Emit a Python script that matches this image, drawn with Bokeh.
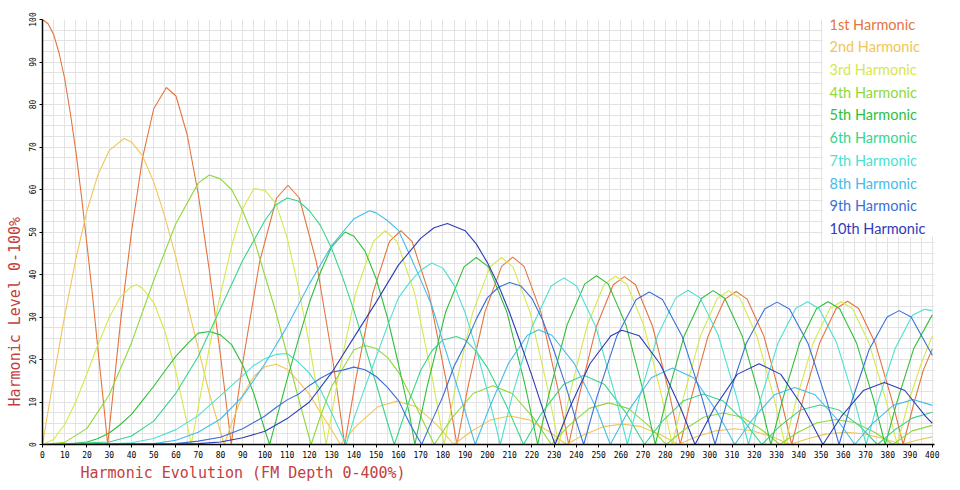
import math
from bokeh.plotting import figure
from bokeh.models import SingleIntervalTicker, BoxAnnotation, Label, Title
from bokeh.embed import file_html
from bokeh.resources import INLINE

# ---- data (x: FM depth 0-400 %, y: harmonic level 0-100 %) ----
H1_X = [0, 2.5, 5, 7.5, 10, 12.5, 15, 17.5, 20, 22.5, 25, 27.5, 29.3,
        35, 40, 45, 50, 55.7, 60, 65, 70, 75, 80, 84.85,
        89.95, 97.6, 105.25, 110.35, 115.45, 123.1, 130.75, 135.85,
        140.9, 148.5, 156.0, 161.1, 166.1, 173.7, 181.3, 186.3,
        191.3, 198.9, 206.4, 211.4, 216.5, 224.0, 231.5, 236.55,
        241.6, 249.1, 256.6, 261.6, 266.6, 274.2, 281.7, 286.7,
        291.7, 299.2, 306.7, 311.8, 316.8, 324.3, 331.8, 336.8,
        341.8, 349.3, 356.8, 361.9, 366.9, 374.4, 381.9, 386.9,
        391.9, 396, 400]
H1_Y = [100, 99, 96.5, 92, 86, 78, 69, 58.5, 47, 35, 22, 9.5, 0,
        28.5, 50, 67.5, 79, 84, 82, 73, 59, 41, 21, 0,
        19, 43, 58, 61, 58, 43, 19, 0,
        15.5, 35.6, 47.8, 50.3, 47.8, 35.6, 15.5, 0,
        13.6, 31.2, 41.9, 44.1, 41.9, 31.2, 13.6, 0,
        12.2, 27.9, 37.6, 39.5, 37.6, 27.9, 12.2, 0,
        11.1, 25.5, 34.2, 36, 34.2, 25.5, 11.1, 0,
        10.4, 23.8, 32.0, 33.7, 32.0, 23.8, 10.4, 0,
        10, 17.5, 22.5]

H2_X = [0, 5, 10, 15, 20, 25, 30, 36.7, 40, 45, 50, 55, 60, 65, 70, 75, 81.7,
        85, 90, 95, 100, 105, 110, 115, 120, 125, 130, 133.95,
        141.6, 150.8, 159.4, 168.1, 177.3, 184.9,
        192.5, 201.6, 210.2, 218.8, 227.9, 235.5,
        243.0, 252.1, 260.7, 269.2, 278.3, 285.8,
        293.3, 302.4, 311.0, 319.5, 328.6, 336.1,
        343.6, 352.7, 361.2, 369.7, 378.8, 386.3,
        393, 400]
H2_Y = [0, 15.6, 30.4, 43.7, 55, 63.6, 69.2, 72, 71.2, 67.9, 61.8, 53.6, 44, 33.2, 22.7, 12, 0,
        4.9, 11.7, 16, 18.3, 18.9, 17.7, 14.9, 11.8, 7.5, 3.4, 0,
        4.6, 8.9, 10.2, 8.9, 4.6, 0,
        3.0, 5.8, 6.7, 5.8, 3.0, 0,
        2.2, 4.2, 4.8, 4.2, 2.2, 0,
        1.7, 3.2, 3.7, 3.2, 1.7, 0,
        1.3, 2.5, 2.9, 2.5, 1.3, 0,
        1.0, 1.8]

H3_X = [0, 5, 10, 15, 20, 25, 30, 35, 40, 42.5, 45, 50, 55, 60, 65, 66.85,
        70, 75, 80, 85, 90, 95, 100, 105, 110, 115, 120, 125, 127.55,
        132.85, 140.8, 148.75, 154.05, 159.35, 167.3, 175.25, 180.55,
        185.7, 193.4, 201.2, 206.3, 211.5, 219.2, 226.9, 232.1,
        237.2, 244.85, 252.5, 257.6, 262.7, 270.35, 278.0, 283.1,
        288.2, 295.8, 303.4, 308.45, 313.5, 321.1, 328.7, 333.8,
        338.8, 346.4, 354.0, 359.0, 364.1, 371.6, 379.2, 384.25,
        389.3, 395, 400]
H3_Y = [0, 1.2, 4.7, 10.1, 16.7, 23.6, 29.9, 34.7, 37.2, 37.6, 36.7, 33.4, 26.7, 17, 4.9, 0,
        8.8, 22.8, 35.4, 46.6, 55.5, 60.2, 59.8, 56.6, 48.6, 37, 23.5, 7.9, 0,
        15.6, 35.6, 47.8, 50.3, 47.8, 35.6, 15.6, 0,
        13.6, 31.1, 41.8, 44, 41.8, 31.1, 13.6, 0,
        12.2, 28.0, 37.7, 39.6, 37.7, 28.0, 12.2, 0,
        11.2, 25.6, 34.4, 36.2, 34.4, 25.6, 11.2, 0,
        10.4, 23.8, 32.0, 33.6, 32.0, 23.8, 10.4, 0,
        10, 19, 25.5]

H4_X = [0, 10, 20, 30, 40, 50, 60, 70, 75, 80, 85, 90, 95, 100, 105, 110, 115, 120.75,
        125, 130, 135, 140, 145, 150, 155, 160, 165, 170, 176.1,
        184.0, 193.6, 202.4, 211.2, 220.8, 228.75,
        236.5, 245.8, 254.55, 263.3, 272.6, 280.35,
        288.0, 297.2, 305.9, 314.6, 323.8, 331.45,
        339.1, 348.2, 356.85, 365.5, 374.6, 382.25,
        391, 400]
H4_Y = [0, 0.5, 3.8, 11.7, 23.9, 38.6, 52, 61.5, 63.4, 62.5, 60, 55, 48.5, 39.7, 31, 21, 11, 0,
        6.7, 13.7, 17.9, 22.3, 23.3, 22.6, 20.5, 17.1, 12, 6.7, 0,
        6.2, 12.0, 13.8, 12.0, 6.2, 0,
        4.4, 8.5, 9.8, 8.5, 4.4, 0,
        3.3, 6.4, 7.4, 6.4, 3.3, 0,
        2.7, 5.1, 5.9, 5.1, 2.7, 0,
        3.2, 4.5]

H5_X = [0, 10, 20, 25, 30, 35, 40, 45, 50, 55, 60, 65, 70, 75, 80, 85, 90, 95, 100, 102.1,
        105, 110, 115, 120, 125, 130, 136, 140, 145, 150, 155, 160, 165, 167.4,
        172.9, 181.2, 189.5, 195.0, 200.5, 208.8, 217.1, 222.6,
        227.9, 235.8, 243.8, 249.05, 254.3, 262.3, 270.2, 275.5,
        280.7, 288.5, 296.3, 301.5, 306.7, 314.5, 322.3, 327.45,
        332.6, 340.3, 348.0, 353.15, 358.3, 366.0, 373.7, 378.85,
        384, 391.7, 400]
H5_Y = [0, 0, 0.6, 1.4, 2.7, 4.7, 7.1, 10.4, 13.7, 17.3, 20.8, 23.6, 26.2, 26.6, 25.8, 23.5, 18.7, 12, 3.3, 0,
        5.7, 15.4, 24.6, 33.4, 40.6, 46.5, 50, 49, 45.5, 39, 30, 19, 7, 0,
        13.6, 31.1, 41.8, 44, 41.8, 31.1, 13.6, 0,
        12.3, 28.1, 37.8, 39.7, 37.8, 28.1, 12.3, 0,
        11.2, 25.6, 34.4, 36.2, 34.4, 25.6, 11.2, 0,
        10.4, 23.8, 32.0, 33.6, 32.0, 23.8, 10.4, 0,
        9.8, 22.6, 30.5]

H6_X = [0, 30, 40, 50, 60, 70, 80, 90, 100, 105, 110, 115, 120, 125, 130, 135, 140, 145, 150, 155, 158.15,
        165, 170, 175, 180, 186, 190, 195, 200, 205, 210, 216.25,
        224.4, 234.2, 243.4, 252.7, 262.4, 270.6,
        278.5, 288.2, 297.0, 305.8, 315.5, 323.4,
        331.2, 340.7, 349.4, 358.1, 367.6, 375.35,
        383, 391, 400]
H6_Y = [0, 0.6, 2, 5.5, 12.1, 20.7, 32, 43.3, 52.7, 56.4, 58.0, 57.3, 55, 51.5, 46.1, 39.2, 31.5, 23, 14.3, 5.3, 0,
        10.5, 17.4, 22, 24.6, 25.4, 24.6, 21.9, 18.1, 13, 7.5, 0,
        7.4, 14.1, 16.3, 14.1, 7.4, 0,
        5.4, 10.3, 11.9, 10.3, 5.4, 0,
        4.2, 8.1, 9.3, 8.1, 4.2, 0,
        3.4, 6.2, 7.6]

H7_X = [0, 30, 40, 50, 60, 70, 80, 90, 95, 100, 105, 110, 115, 120, 125, 130, 136.5,
        140, 145, 150, 155, 160, 165, 170, 175, 180, 185, 190, 195, 200, 205.8,
        211.5, 220.1, 228.7, 234.4, 240.1, 248.7, 257.2, 262.95,
        268.4, 276.6, 284.7, 290.2, 295.6, 303.8, 312.0, 317.4,
        322.7, 330.6, 338.6, 343.85, 349.1, 357.1, 365.0, 370.3,
        375.5, 383.3, 391.1, 396.5, 400]
H7_Y = [0, 0.1, 0.4, 1.4, 3.5, 6.8, 11.5, 16.2, 18.6, 20.2, 21.2, 21.4, 19.4, 16.8, 12.8, 7.4, 0,
        6.1, 13.5, 20.6, 27.8, 34.5, 38.1, 41, 42.7, 41.5, 37.5, 31, 22.5, 12.5, 0,
        12.1, 27.7, 37.3, 39.2, 37.3, 27.7, 12.1, 0,
        11.2, 25.7, 34.5, 36.3, 34.5, 25.7, 11.2, 0,
        10.4, 23.8, 32.0, 33.6, 32.0, 23.8, 10.4, 0,
        9.9, 22.6, 30.4, 31.8, 31.5]

H8_X = [0, 50, 60, 70, 80, 90, 100, 110, 120, 130, 135, 140, 147, 150, 155, 160, 165, 170, 175, 180, 185, 190, 194.55,
        200.6, 209.5, 218, 223, 229, 239, 249.2, 255.25,
        263.6, 273.7, 283.2, 292.7, 302.8, 311.2,
        319.3, 329.0, 338.2, 347.3, 357.1, 365.15,
        372.9, 382.4, 391.4, 400]
H8_Y = [0, 0.2, 1, 2.9, 6, 11.3, 19, 27.8, 37.8, 46.8, 50, 53.1, 55, 54.5, 52.7, 50.4, 44.7, 38.8, 32.7, 24.2, 16, 7.8, 0,
        8.3, 19.1, 25.7, 27, 25.7, 19.1, 8.3, 0,
        8.1, 15.7, 18, 15.7, 8.1, 0,
        6.0, 11.7, 13.4, 11.7, 6.0, 0,
        4.8, 9.2, 10.6, 9.2]

H9_X = [0, 60, 70, 80, 90, 100, 105, 110, 115, 120, 125, 130, 135, 140, 145, 150, 155, 160, 165, 170.45,
        175, 180, 185, 190, 195, 200, 205, 210, 215, 220, 225, 230, 235, 240, 243.3,
        249.2, 258.1, 266.9, 272.8, 278.7, 287.6, 296.4, 302.35,
        307.9, 316.3, 324.65, 330.2, 335.8, 344.2, 352.5, 358.1,
        363.5, 371.6, 379.7, 385.1, 390.5, 400]
H9_Y = [0, 0.2, 0.8, 1.7, 3.7, 6.7, 8.7, 10.5, 11.8, 13.9, 15.6, 17, 17.5, 18.2, 17.6, 16, 13.5, 10.4, 5, 0,
        5.5, 11.3, 18.4, 23.5, 29.5, 34.5, 37, 38.1, 37.3, 34.4, 29.1, 22, 14.2, 5.4, 0,
        11.1, 25.4, 34.1, 35.9, 34.1, 25.4, 11.1, 0,
        10.4, 23.7, 31.9, 33.5, 31.9, 23.7, 10.4, 0,
        9.7, 22.3, 30, 31.5, 30, 21]

H10_X = [0, 60, 70, 80, 90, 100, 110, 120, 130, 140, 150, 160, 170, 176, 182, 190, 195, 200, 205, 210, 215, 220, 225, 230.4,
         236.7, 246.1, 255.6, 260.5, 268.2, 277.6, 287.1, 293.35,
         302.0, 312.3, 322.1, 331.9, 342.2, 350.85,
         359.1, 369.0, 378.4, 387.7, 397.0, 400]
H10_Y = [0, 0.1, 0.2, 0.6, 1.6, 3.1, 6.1, 10, 16.9, 25.2, 33.5, 42.2, 48.5, 51, 52, 50.3, 47.2, 42.8, 37.4, 31, 23.7, 16.2, 8.2, 0,
         8.3, 19.0, 25.6, 26.9, 25.6, 19.0, 8.3, 0,
         8.6, 16.5, 19, 16.5, 8.6, 0,
         6.6, 12.7, 14.6, 12.7, 6.6, 5]

NAMES = ["1st Harmonic", "2nd Harmonic", "3rd Harmonic", "4th Harmonic", "5th Harmonic",
         "6th Harmonic", "7th Harmonic", "8th Harmonic", "9th Harmonic", "10th Harmonic"]
COLORS = ["#e5733e", "#f2c556", "#d6e84a", "#8fd83a", "#2fbf3a",
          "#38d48c", "#4ddfd0", "#45bcea", "#3a6fd8", "#2d3cb8"]

SERIES = [(H1_X, H1_Y), (H2_X, H2_Y), (H3_X, H3_Y), (H4_X, H4_Y), (H5_X, H5_Y),
          (H6_X, H6_Y), (H7_X, H7_Y), (H8_X, H8_Y), (H9_X, H9_Y), (H10_X, H10_Y)]
for i, (xs, ys) in enumerate(SERIES):
    if len(xs) != len(ys):
        raise ValueError("series %d: %d x vs %d y" % (i + 1, len(xs), len(ys)))

X_LABEL = "Harmonic Evolution (FM Depth 0-400%)"
Y_LABEL = "Harmonic Level 0-100%"

# ---- figure ----
p = figure(width=951, height=482, x_range=(0, 401), y_range=(0, 100),
           output_backend="svg", toolbar_location=None)
p.min_border_left = 42
p.min_border_right = 17
p.min_border_top = 19
p.min_border_bottom = 37
p.outline_line_color = None
p.background_fill_color = "white"
p.border_fill_color = "white"

GRID = "#e3e3e3"
p.xaxis.ticker = SingleIntervalTicker(interval=10, num_minor_ticks=2)
p.yaxis.ticker = SingleIntervalTicker(interval=10, num_minor_ticks=4)
p.xgrid.ticker = p.xaxis.ticker
p.ygrid.ticker = p.yaxis.ticker
for g in (p.xgrid, p.ygrid):
    g.grid_line_color = GRID
    g.grid_line_width = 1
    g.minor_grid_line_color = GRID
    g.minor_grid_line_width = 1

for ax in (p.xaxis, p.yaxis):
    ax.axis_line_color = "black"
    ax.axis_line_width = 1.5
    ax.major_tick_line_color = "black"
    ax.major_tick_out = 3
    ax.major_tick_in = 0
    ax.minor_tick_line_color = None
    ax.major_label_text_font = "DejaVu Sans Mono"
    ax.major_label_text_font_size = "8px"
    ax.major_label_text_color = "black"
    ax.axis_label = None
p.xaxis.major_label_standoff = 2
p.yaxis.major_label_standoff = 3
p.yaxis.major_label_orientation = "vertical"

# axis titles as side titles
AX_RED = "#c44040"
p.add_layout(Title(text=X_LABEL, align="left", offset=38, standoff=2,
                   text_color=AX_RED, text_font="DejaVu Sans Mono",
                   text_font_size="15px", text_font_style="normal"), "below")
p.add_layout(Title(text=Y_LABEL, align="left", offset=38, standoff=3,
                   text_color=AX_RED, text_font="DejaVu Sans Mono",
                   text_font_size="15px", text_font_style="normal"), "left")

# white box behind the legend (hides the grid there)
p.add_layout(BoxAnnotation(left=350.8, right=401, bottom=48.9, top=100,
                           fill_color="white", fill_alpha=1.0, line_color=None,
                           level="underlay"))

for (xs, ys), c in zip(SERIES, COLORS):
    p.line(xs, ys, line_color=c, line_width=1.1)

# legend as coloured text
for i, (name, c) in enumerate(zip(NAMES, COLORS)):
    p.add_layout(Label(x=353.8, y=98.9 - i * 5.34, text=name, text_color=c,
                       text_font="Lato", text_font_size="14.5px",
                       text_baseline="middle", text_align="left"))

open("out.html", "w").write(file_html(p, INLINE))
